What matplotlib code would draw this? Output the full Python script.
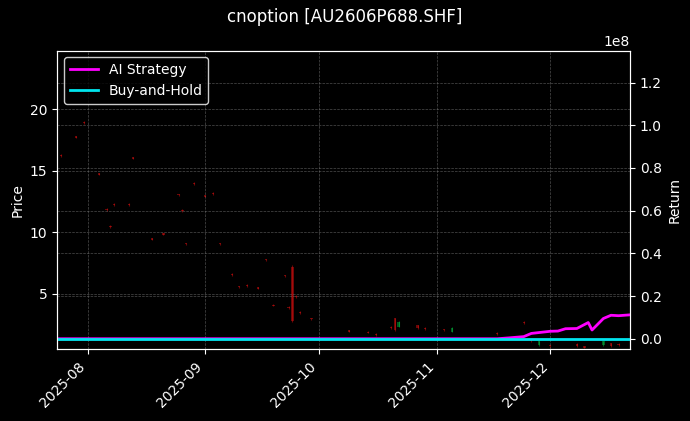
import matplotlib
matplotlib.use("Agg")
import matplotlib.pyplot as plt
import matplotlib.dates as mdates
import pandas as pd
import numpy as np

plt.style.use('dark_background')

dates = ["2025-07-24","2025-07-25","2025-07-29","2025-07-31","2025-08-04","2025-08-06","2025-08-07","2025-08-08",
         "2025-08-12","2025-08-13","2025-08-18","2025-08-21","2025-08-25","2025-08-26","2025-08-27","2025-08-29",
         "2025-09-01","2025-09-03","2025-09-05","2025-09-08","2025-09-10","2025-09-12","2025-09-15","2025-09-17",
         "2025-09-19","2025-09-22","2025-09-23","2025-09-24","2025-09-25","2025-09-26","2025-09-29","2025-10-09",
         "2025-10-14","2025-10-16","2025-10-20","2025-10-21","2025-10-22","2025-10-27","2025-10-29","2025-11-03",
         "2025-11-05","2025-11-17","2025-11-24","2025-11-26","2025-11-28","2025-12-01","2025-12-08","2025-12-10",
         "2025-12-15","2025-12-17","2025-12-19"]
opens = [18.0,16.3,17.8,19.0,14.8,11.9,10.5,12.3,12.3,16.1,9.5,9.9,13.1,11.8,9.1,14.0,13.0,13.2,9.1,6.6,5.6,5.7,5.5,7.8,
         4.1,6.5,3.9,7.2,4.8,3.5,3.0,2.0,1.9,1.7,2.3,3.0,2.3,2.4,2.2,2.1,1.9,1.8,2.7,1.2,0.8,0.8,0.9,0.7,0.8,0.95,0.9]
closes = [17.9,16.2,17.7,18.9,14.7,11.8,10.4,12.2,12.2,16.0,9.4,9.8,13.0,11.7,9.0,13.9,12.9,13.1,9.0,6.5,5.5,5.6,5.4,7.7,
          4.0,6.4,3.8,2.8,4.7,3.4,2.9,1.9,1.8,1.6,2.2,2.0,2.7,2.2,2.1,2.0,2.2,1.7,2.6,1.1,1.1,0.7,0.7,0.6,1.1,0.7,0.8]
highs = [max(o, c) + 0.05 for o, c in zip(opens, closes)]
lows = [min(o, c) - 0.05 for o, c in zip(opens, closes)]
highs[27] = 7.3; lows[27] = 2.7

ret_dates = ["2025-07-24","2025-11-17","2025-11-20","2025-11-24","2025-11-26","2025-12-01","2025-12-03","2025-12-05",
             "2025-12-08","2025-12-11","2025-12-12","2025-12-15","2025-12-17","2025-12-19","2025-12-22"]
ai_ret = [0.0,0.0,0.004,0.010,0.025,0.035,0.036,0.047,0.048,0.076,0.041,0.095,0.110,0.108,0.112]
bh_ret = [0.0]*len(ret_dates)

d = pd.to_datetime(dates)
rd = pd.to_datetime(ret_dates)

fig, ax = plt.subplots(figsize=(6.9, 4.21), dpi=100)
fig.patch.set_facecolor('black')
ax.set_facecolor('black')
x = mdates.date2num(d)
for xi, o, c, h, l in zip(x, opens, closes, highs, lows):
    col = '#00cc44' if c > o else '#ee1111'
    ax.vlines(xi, l, h, color=col, linewidth=0.8, alpha=0.45)
    ax.bar(xi, abs(c - o) if abs(c - o) > 0.05 else 0.1, bottom=min(o, c), width=0.6, color=col, alpha=0.45)
ax.set_ylim(0.45, 24.8)
ax.set_ylabel("Price")
ax.set_xlim(mdates.date2num(pd.Timestamp("2025-07-24")), mdates.date2num(pd.Timestamp("2025-12-22")))
ax.grid(True, linestyle='--', linewidth=0.5, color='gray', alpha=0.6)
ax.xaxis.set_major_locator(mdates.MonthLocator())
ax.xaxis.set_major_formatter(mdates.DateFormatter('%Y-%m'))
plt.setp(ax.get_xticklabels(), rotation=45, ha='right')

ax2 = ax.twinx()
ax2.plot(rd, np.array(ai_ret) * 1e8, color='#ff00ff', linewidth=2, label='AI Strategy')
ax2.plot(rd, np.array(bh_ret) * 1e8, color='#00e5ee', linewidth=2, label='Buy-and-Hold')
ax2.set_ylim(-0.05e8, 1.35e8)
ax2.set_ylabel("Return")
ax2.grid(True, linestyle='--', linewidth=0.5, color='gray', alpha=0.6)
ax2.legend(loc='upper left', facecolor='black', edgecolor='white')

fig.suptitle("cnoption [AU2606P688.SHF]")
fig.subplots_adjust(left=0.083, right=0.913, top=0.88, bottom=0.17)
fig.savefig("out.png", facecolor='black')
